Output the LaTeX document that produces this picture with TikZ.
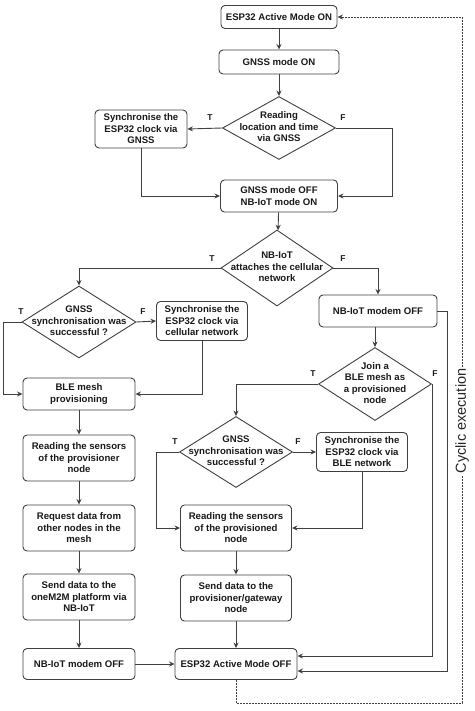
\documentclass[tikz,border=0pt]{standalone}
\usepackage{fontspec}
\setmainfont{Liberation Sans}
\usetikzlibrary{shapes.geometric,arrows.meta,calc}
\newcommand{\diatext}[1]{\makebox[0pt]{\begin{tabular}{@{}c@{}}#1\end{tabular}}}
\begin{document}
\begin{tikzpicture}[x=1pt,y=-1pt,
  font=\fontsize{9.6}{11.5}\selectfont\bfseries,
  box/.style={draw=black!75, line width=0.9pt, rounded corners=4pt, align=center, inner sep=1pt, text=black!90},
  dia/.style={draw=black!75, line width=0.9pt, diamond, inner sep=0pt, text=black!90},
  conn/.style={draw=black!75, line width=0.9pt, -{Stealth[length=5.5pt,width=5pt]}},
  cyc/.style={draw=black!75, line width=0.8pt, dash pattern=on 1.6pt off 1.4pt, -{Stealth[length=5.5pt,width=5pt]}},
  lbl/.style={font=\fontsize{8.5}{10}\selectfont\bfseries, text=black!90, inner sep=0pt},
]
\useasboundingbox (0,0) rectangle (474,711);

% top column
\node[box, minimum width=116pt, minimum height=23pt] (on) at (279,17) {ESP32 Active Mode ON};
\node[box, minimum width=120pt, minimum height=24pt] (gon) at (279,62) {GNSS mode ON};
\node[dia, minimum width=113pt, minimum height=63pt] (rd) at (279,128) {\diatext{Reading\\location and time\\via GNSS}};
\node[box, minimum width=92pt, minimum height=38pt] (sg) at (141,129) {Synchronise the\\ESP32 clock via\\GNSS};
\node[box, minimum width=117pt, minimum height=32pt] (goff) at (279,196) {GNSS mode OFF\\NB-IoT mode ON};
\node[dia, minimum width=112pt, minimum height=76pt] (nb) at (277,268) {\diatext{NB-IoT\\attaches the cellular\\network}};

% left column
\node[dia, minimum width=114pt, minimum height=72pt] (gs1) at (79,322) {\diatext{GNSS\\synchronisation was\\successful ?}};
\node[box, minimum width=91pt, minimum height=39pt] (sc) at (202,321) {Synchronise the\\ESP32 clock via\\cellular network};
\node[box, minimum width=112pt, minimum height=32pt] (ble) at (79,394) {BLE mesh\\provisioning};
\node[box, minimum width=112pt, minimum height=46pt] (rs) at (79,458) {Reading the sensors\\of the provisioner\\node};
\node[box, minimum width=112pt, minimum height=46pt] (rq) at (79,528) {Request data from\\other nodes in the\\mesh};
\node[box, minimum width=112pt, minimum height=46pt] (sd) at (79,597) {Send data to the\\oneM2M platform via\\NB-IoT};
\node[box, minimum width=112pt, minimum height=31pt] (moff2) at (79,664) {NB-IoT modem OFF};

% right column
\node[box, minimum width=118pt, minimum height=32pt] (moff1) at (378,311) {NB-IoT modem OFF};
\node[dia, minimum width=113pt, minimum height=73pt] (jn) at (375,384) {\diatext{Join a\\BLE mesh as\\a provisioned\\node}};
\node[dia, minimum width=113pt, minimum height=71pt] (gs2) at (236,452) {\diatext{GNSS\\synchronisation was\\successful ?}};
\node[box, minimum width=91pt, minimum height=39pt] (sb) at (362,452) {Synchronise the\\ESP32 clock via\\BLE network};
\node[box, minimum width=111pt, minimum height=46pt] (rp) at (236,528) {Reading the sensors\\of the provisioned\\node};
\node[box, minimum width=111pt, minimum height=46pt] (sp) at (236,598) {Send data to the\\provisioner/gateway\\node};
\node[box, minimum width=122pt, minimum height=31pt] (aoff) at (236,664) {ESP32 Active Mode OFF};

% T / F labels
\node[lbl] (t1) at (210,118) {T};
\node[lbl] (f1) at (343,118) {F};
\node[lbl] (t2) at (212,259) {T};
\node[lbl] (f2) at (343,259) {F};
\node[lbl] (t3) at (21,312) {T};
\node[lbl] (f3) at (143,312) {F};
\node[lbl] (t4) at (313,374) {T};
\node[lbl] (f4) at (435,374) {F};
\node[lbl] (t5) at (175,442) {T};
\node[lbl] (f5) at (298,442) {F};

% connectors
\draw[conn] (on) -- (gon);
\draw[conn] (gon) -- (rd);
\draw[conn] (rd.west) -- (sg.east);
\draw[conn] (rd.east) -- ++(56,0) |- (goff.east);
\draw[conn] (sg.south) |- (goff.west);
\draw[conn] (goff) -- (nb);
\draw[conn] (nb.west) -| (gs1.north);
\draw[conn] (nb.east) -| (moff1.north);
\draw[conn] (gs1.east) -- (sc.west);
\draw[conn] (gs1.west) -- ++(-18,0) |- (ble.west);
\draw[conn] (sc.south) |- (ble.east);
\draw[conn] (ble) -- (rs);
\draw[conn] (rs) -- (rq);
\draw[conn] (rq) -- (sd);
\draw[conn] (sd) -- (moff2);
\draw[conn] (moff2) -- (aoff);
\draw[conn] (moff1.south -| jn.north) -- (jn.north);
\draw[conn] (jn.west) -| (gs2.north);
\draw[conn] (jn.east) |- ([yshift=8pt]aoff.east);
\draw[conn] (moff1.east) -- ++(10,0) |- ([yshift=-7pt]aoff.east);
\draw[conn] (gs2.east) -- (sb.west);
\draw[conn] (gs2.west) -- ++(-23,0) |- (rp.west);
\draw[conn] (sb.south) |- (rp.east);
\draw[conn] (rp) -- (sp);
\draw[conn] (sp) -- (aoff);

% cyclic execution
\coordinate (db) at (462,703);
\draw[cyc] (aoff.south) |- (db) |- (on.east);
\node[rotate=90, fill=white, inner sep=1.5pt, font=\fontsize{14.5}{16}\selectfont, text=black!85] (cyctext) at (462,421) {Cyclic execution};
\end{tikzpicture}
\end{document}
